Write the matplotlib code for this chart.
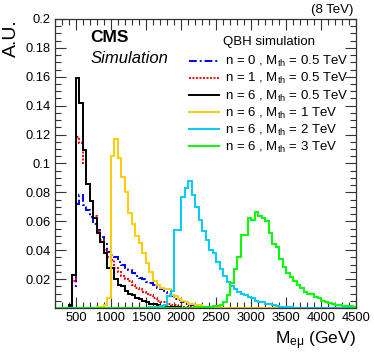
import numpy as np
import matplotlib
matplotlib.use("Agg")
import matplotlib.pyplot as plt
from matplotlib.ticker import MultipleLocator, FuncFormatter
from matplotlib.lines import Line2D

plt.rcParams['font.family'] = ['Liberation Sans', 'DejaVu Sans']
plt.rcParams['mathtext.fontset'] = 'custom'
plt.rcParams['mathtext.rm'] = 'Liberation Sans'
plt.rcParams['mathtext.it'] = 'Liberation Sans:italic'
plt.rcParams['mathtext.bf'] = 'Liberation Sans:bold'

# binning (GeV)
bin_width = 50
x_min, x_max = 200, 4500

# each sample: low edge of the first filled bin + bin contents (A.U.)
n0_start = 400
n0_vals = [0.001, 0.015, 0.072, 0.078, 0.071, 0.068, 0.063, 0.058, 0.054, 0.049,
           0.044, 0.039, 0.037, 0.035, 0.032, 0.030, 0.028, 0.026, 0.024, 0.022,
           0.021, 0.020, 0.018, 0.017, 0.016, 0.014, 0.013, 0.011, 0.010, 0.008,
           0.006, 0.0055, 0.004, 0.003, 0.002, 0.002, 0.0015, 0.001, 0.001, 0.0008,
           0.0005, 0.0005]

n1_start = 400
n1_vals = [0.002, 0.019, 0.118, 0.114, 0.100, 0.086, 0.074, 0.064, 0.053, 0.047,
           0.040, 0.035, 0.033, 0.028, 0.025, 0.022, 0.020, 0.019, 0.016, 0.014,
           0.013, 0.011, 0.010, 0.009, 0.007, 0.005, 0.0045, 0.004, 0.003, 0.002,
           0.002, 0.0015, 0.001, 0.001, 0.0008, 0.0005, 0.0005]

n6_05_start = 400
n6_05_vals = [0.002, 0.023, 0.159, 0.142, 0.109, 0.086, 0.074, 0.062, 0.052, 0.046,
              0.038, 0.0275, 0.0275, 0.020, 0.016, 0.015, 0.012, 0.010, 0.009, 0.007,
              0.006, 0.005, 0.004, 0.003, 0.0025, 0.002, 0.0015, 0.001, 0.001, 0.0008,
              0.0005, 0.0005]

n6_1_start = 800
n6_1_vals = [0.001, 0.001, 0.002, 0.007, 0.105, 0.117, 0.104, 0.091, 0.080, 0.066,
             0.058, 0.050, 0.045, 0.038, 0.031, 0.025, 0.019, 0.016, 0.014, 0.013,
             0.013, 0.009, 0.008, 0.006, 0.005, 0.004, 0.003, 0.003, 0.002, 0.002,
             0.001, 0.001, 0.0008, 0.0005]

n6_2_start = 1550
n6_2_vals = [0.0005, 0.001, 0.001, 0.0015, 0.002, 0.008, 0.012, 0.054, 0.054, 0.077,
             0.083, 0.088, 0.078, 0.070, 0.061, 0.053, 0.047, 0.040, 0.038, 0.032,
             0.027, 0.022, 0.018, 0.015, 0.013, 0.011, 0.010, 0.009, 0.0075, 0.0067,
             0.005, 0.0045, 0.004, 0.003, 0.003, 0.002, 0.0015, 0.001, 0.001, 0.0005,
             0.0005]

n6_3_start = 2200
n6_3_vals = [0.0005, 0.0005, 0.0008, 0.001, 0.001, 0.0015, 0.0015, 0.002, 0.0044, 0.009,
             0.017, 0.027, 0.0355, 0.0505, 0.0505, 0.062, 0.061, 0.0667, 0.064, 0.062,
             0.060, 0.052, 0.0445, 0.0424, 0.034, 0.0286, 0.024, 0.0217, 0.019, 0.016,
             0.0136, 0.0113, 0.010, 0.010, 0.0078, 0.0067, 0.005, 0.0044, 0.0035, 0.003,
             0.002, 0.002, 0.0014, 0.0014, 0.0012, 0.001]

labels = [
    r"n = 0 , M$_{\mathrm{th}}$ = 0.5 TeV",
    r"n = 1 , M$_{\mathrm{th}}$ = 0.5 TeV",
    r"n = 6 , M$_{\mathrm{th}}$ = 0.5 TeV",
    r"n = 6 , M$_{\mathrm{th}}$ = 1 TeV",
    r"n = 6 , M$_{\mathrm{th}}$ = 2 TeV",
    r"n = 6 , M$_{\mathrm{th}}$ = 3 TeV",
]

edges = np.arange(x_min, x_max + bin_width, bin_width)


def full_hist(start, vals):
    """Pad bin contents with zeros over the whole axis range."""
    h = np.zeros(len(edges) - 1)
    i = (start - x_min) // bin_width
    h[i:i + len(vals)] = vals
    return h


samples = [
    (n0_start, n0_vals, '#0000ff', (0, (4, 1.5, 1, 1.5))),
    (n1_start, n1_vals, '#ff0000', (0, (1, 0.8))),
    (n6_05_start, n6_05_vals, '#000000', '-'),
    (n6_1_start, n6_1_vals, '#ffcc00', '-'),
    (n6_2_start, n6_2_vals, '#00ccff', '-'),
    (n6_3_start, n6_3_vals, '#00ff00', '-'),
]
draw_order = [2, 1, 0, 3, 4, 5]

fig = plt.figure(figsize=(3.74, 3.63), dpi=100)
ax = fig.add_axes([0.147, 0.1515, 0.805, 0.7962])

for k in draw_order:
    start, vals, col, ls = samples[k]
    ax.stairs(full_hist(start, vals), edges, color=col, linestyle=ls,
              linewidth=1.4, baseline=None, zorder=2 + k * 0.1)

ax.set_xlim(x_min, x_max)
ax.set_ylim(0, 0.2)

ax.xaxis.set_major_locator(MultipleLocator(500))
ax.xaxis.set_minor_locator(MultipleLocator(100))
ax.yaxis.set_major_locator(MultipleLocator(0.02))
ax.yaxis.set_minor_locator(MultipleLocator(0.005))
ax.xaxis.set_major_formatter(FuncFormatter(lambda v, p: "" if v < 499 else "%d" % v))
ax.yaxis.set_major_formatter(FuncFormatter(lambda v, p: "" if abs(v) < 1e-9 else "%g" % round(v, 3)))
ax.tick_params(which='both', direction='in', top=True, right=True,
               labelsize=9.3, width=0.8, color='#333333')
ax.tick_params(which='major', length=8, pad=3)
ax.tick_params(which='minor', length=4)
for sp in ax.spines.values():
    sp.set_linewidth(0.9)
    sp.set_color('#333333')

ax.set_xlabel(r"M$_{\mathrm{e\mu}}$ (GeV)", fontsize=12.5, loc='right', labelpad=4)
ax.set_ylabel("A.U.", fontsize=14, loc='top', labelpad=4)

fig.text(0.944, 0.972, "(8 TeV)", ha='right', va='center', fontsize=9.5)
ax.text(0.117, 0.935, "CMS", transform=ax.transAxes, fontsize=12.5,
        fontweight='bold', ha='left', va='center')
ax.text(0.117, 0.865, "Simulation", transform=ax.transAxes, fontsize=12,
        style='italic', ha='left', va='center')
ax.text(0.557, 0.922, "QBH simulation", transform=ax.transAxes, fontsize=9.5,
        ha='left', va='center')

handles = [Line2D([], [], color=samples[k][2], linestyle=samples[k][3], linewidth=1.4)
           for k in range(len(samples))]
leg = ax.legend(handles, labels, loc='upper left', bbox_to_anchor=(0.445, 0.878),
                frameon=False, fontsize=9.5, handlelength=2.3, handletextpad=0.4,
                labelspacing=0.15, borderpad=0, borderaxespad=0)

fig.savefig("out.png", dpi=100)
